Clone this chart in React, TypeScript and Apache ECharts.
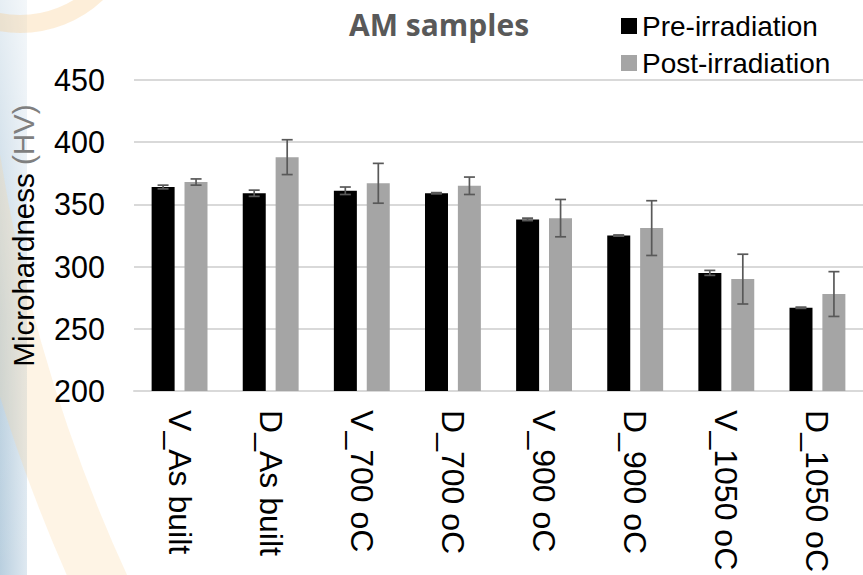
import React, { useEffect, useRef } from 'react';
import * as echarts from 'echarts';

const categories = ['V_As built', 'D_As built', 'V_700 oC', 'D_700 oC', 'V_900 oC', 'D_900 oC', 'V_1050 oC', 'D_1050 oC'];
const preValues = [364, 359, 361, 359, 338, 325, 295, 267];
const preErrors = [1.5, 2.5, 3, 0.5, 1, 0.5, 2, 0.5];
const postValues = [368, 388, 367, 365, 339, 331, 290, 278];
const postErrors = [2.5, 14, 16, 7, 15, 22, 20, 18];
const seriesNames = ['Pre-irradiation', 'Post-irradiation'];
const yMin = 200;
const yMax = 450;
const yStep = 50;

const FONT = "'Liberation Sans', Arial, sans-serif";
const BAR_W = 23;
const BAR_GAP = 10;

function errorSeries(values: number[], errors: number[], offset: number) {
  return {
    type: 'custom',
    z: 5,
    silent: true,
    encode: { x: 0, y: [1, 2] },
    data: values.map((v, i) => [i, v - errors[i], v + errors[i]]),
    renderItem: (params: any, api: any) => {
      const i = api.value(0);
      const lo = api.coord([i, api.value(1)]);
      const hi = api.coord([i, api.value(2)]);
      const x = lo[0] + offset;
      const cap = 5.5;
      const style = { stroke: '#595959', lineWidth: 1.7 };
      return {
        type: 'group',
        children: [
          { type: 'line', shape: { x1: x, y1: hi[1], x2: x, y2: lo[1] }, style },
          { type: 'line', shape: { x1: x - cap, y1: hi[1], x2: x + cap, y2: hi[1] }, style },
          { type: 'line', shape: { x1: x - cap, y1: lo[1], x2: x + cap, y2: lo[1] }, style },
        ],
      };
    },
  };
}

export default function App() {
  const ref = useRef<HTMLDivElement>(null);
  useEffect(() => {
    if (!ref.current) return;
    const chart = echarts.init(ref.current, undefined, { renderer: 'svg' });
    const off = (BAR_W + BAR_GAP) / 2;
    chart.setOption({
      animation: false,
      backgroundColor: '#ffffff',
      graphic: [
        {
          type: 'rect',
          z: -10,
          silent: true,
          shape: { x: 0, y: 0, width: 27, height: 575 },
          style: {
            fill: new echarts.graphic.LinearGradient(0, 0, 1, 0, [
              { offset: 0, color: '#b9cfdf' },
              { offset: 1, color: '#dfe9f1' },
            ]),
          },
        },
        {
          type: 'rect',
          z: -9,
          silent: true,
          shape: { x: 0, y: 0, width: 27, height: 575 },
          style: {
            fill: new echarts.graphic.LinearGradient(0, 0, 0, 1, [
              { offset: 0, color: 'rgba(255,255,255,0.65)' },
              { offset: 0.55, color: 'rgba(255,255,255,0.15)' },
              { offset: 1, color: 'rgba(255,255,255,0)' },
            ]),
          },
        },
        {
          type: 'arc',
          z: -8,
          silent: true,
          shape: { cx: 1585, cy: -95, r: 1632, startAngle: 2.6, endAngle: 3.02, clockwise: true },
          style: { stroke: 'rgba(250,212,155,0.26)', lineWidth: 55, fill: 'none' },
        },
        {
          type: 'arc',
          z: -8,
          silent: true,
          shape: { cx: 20, cy: -88, r: 112, startAngle: 0, endAngle: Math.PI, clockwise: true },
          style: { stroke: 'rgba(248,200,130,0.3)', lineWidth: 18, fill: 'none' },
        },
      ],
      title: {
        text: 'AM samples',
        left: 349,
        top: 9,
        padding: 0,
        textStyle: {
          fontFamily: "'Open Sans', sans-serif",
          fontWeight: 'bold',
          fontSize: 30,
          color: '#595959',
        },
      },
      legend: {
        data: seriesNames,
        orient: 'vertical',
        left: 621,
        top: 12,
        padding: 0,
        itemWidth: 16,
        itemHeight: 16,
        itemGap: 9,
        icon: 'rect',
        textStyle: { fontFamily: FONT, fontSize: 28, color: '#000', lineHeight: 28 },
      },
      grid: { left: 133, top: 80, width: 738, height: 313, containLabel: false },
      xAxis: {
        type: 'category',
        data: categories,
        axisLine: { lineStyle: { color: '#d9d9d9', width: 2 } },
        axisTick: { show: false },
        axisLabel: {
          rotate: -90,
          margin: 19,
          fontFamily: FONT,
          fontSize: 32,
          color: '#000',
          interval: 0,
        },
      },
      yAxis: {
        type: 'value',
        min: yMin,
        max: yMax,
        interval: yStep,
        name: '{a|Microhardness }{b|(HV)}',
        nameLocation: 'middle',
        nameRotate: 90,
        nameGap: 96,
        nameTextStyle: {
          fontFamily: FONT,
          fontSize: 29.5,
          rich: {
            a: { fontFamily: FONT, fontSize: 29.5, color: '#000' },
            b: { fontFamily: FONT, fontSize: 29.5, color: '#7f7f7f' },
          },
        },
        axisLine: { show: false },
        axisTick: { show: false },
        splitLine: { lineStyle: { color: '#d9d9d9', width: 2 } },
        axisLabel: { margin: 29, fontFamily: FONT, fontSize: 30.5, color: '#000' },
      },
      series: [
        {
          name: seriesNames[0],
          type: 'bar',
          data: preValues,
          barWidth: BAR_W,
          barGap: `${Math.round((BAR_GAP / BAR_W) * 100)}%`,
          itemStyle: { color: '#000000' },
        },
        {
          name: seriesNames[1],
          type: 'bar',
          data: postValues,
          barWidth: BAR_W,
          itemStyle: { color: '#a5a5a5' },
        },
        errorSeries(preValues, preErrors, -off),
        errorSeries(postValues, postErrors, off),
      ],
    });
    return () => chart.dispose();
  }, []);
  return (
    <div
      ref={ref}
      style={{ position: 'fixed', left: 0, top: 0, width: 863, height: 575 }}
    />
  );
}
